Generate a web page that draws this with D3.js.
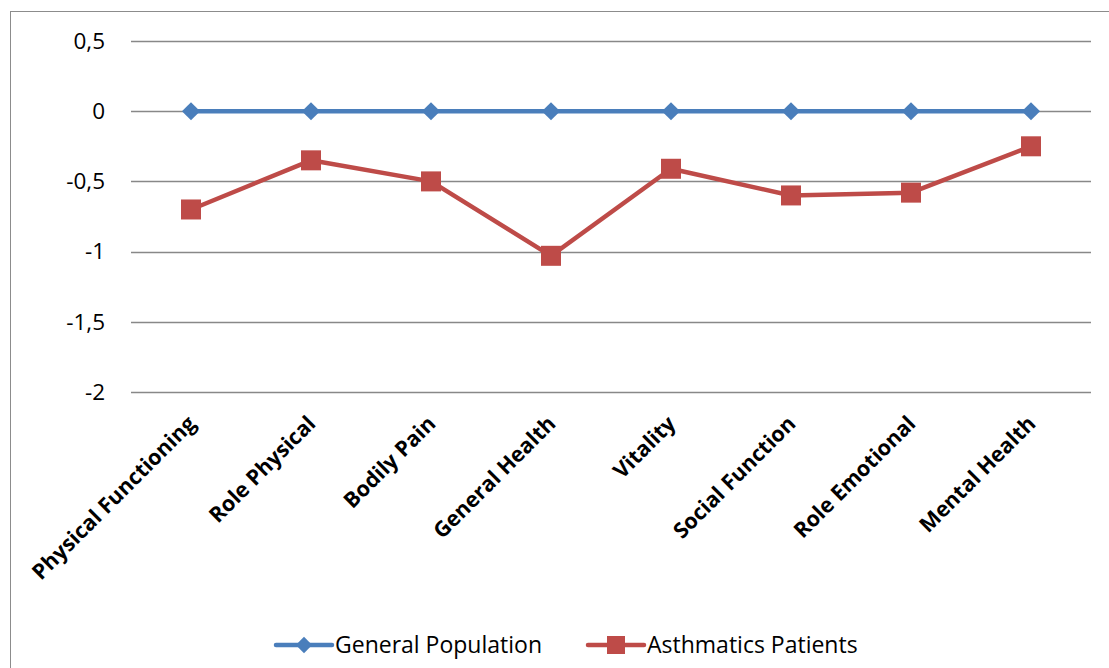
<!DOCTYPE html>
<html>
<head>
<meta charset="utf-8">
<script src="https://cdn.jsdelivr.net/npm/d3@7"></script>
<style>
  html, body { margin: 0; padding: 0; background: #fff; }
  svg { display: block; }
</style>
</head>
<body>
<div id="chart"></div>
<script>
// SF-36 domain scores relative to the general population
const categories = ["Physical Functioning", "Role Physical", "Bodily Pain", "General Health",
                    "Vitality", "Social Function", "Role Emotional", "Mental Health"];
const generalPopulation = [0, 0, 0, 0, 0, 0, 0, 0];
const asthmaticsPatients = [-0.70, -0.35, -0.50, -1.03, -0.41, -0.60, -0.58, -0.25];
const yTicks = [0.5, 0, -0.5, -1, -1.5, -2];
const seriesNames = ["General Population", "Asthmatics Patients"];

const W = 1109, H = 668;
const margin = { left: 131, right: 18, top: 41, bottom: 276 };
const FONT = "'Open Sans', sans-serif";

const svg = d3.select("#chart").append("svg")
  .attr("width", W).attr("height", H);

// outer chart frame
svg.append("rect")
  .attr("x", 10.5).attr("y", 11.5)
  .attr("width", W + 20).attr("height", H + 20)
  .attr("fill", "#fff").attr("stroke", "#8c8c8c").attr("stroke-width", 1);

const x = d3.scaleBand().domain(categories)
  .range([margin.left, W - margin.right]).padding(0);
const y = d3.scaleLinear().domain([-2, 0.5])
  .range([H - margin.bottom, margin.top]);

// horizontal gridlines and value labels
const yAxis = d3.axisLeft(y).tickValues(yTicks).tickSize(0).tickPadding(26)
  .tickFormat(d => String(d).replace(".", ","));
const gy = svg.append("g").attr("transform", `translate(${margin.left},0)`).call(yAxis);
gy.select(".domain").remove();
gy.selectAll("text")
  .attr("font-family", FONT)
  .attr("font-size", 22.5).attr("fill", "#000");

svg.append("g").selectAll("line").data(yTicks).join("line")
  .attr("x1", margin.left).attr("x2", W - margin.right)
  .attr("y1", d => Math.round(y(d)) + 0.5).attr("y2", d => Math.round(y(d)) + 0.5)
  .attr("stroke", "#888").attr("stroke-width", 1.5);

// rotated category labels
const cx = d => x(d) + x.bandwidth() / 2;
svg.append("g").selectAll("text").data(categories).join("text")
  .attr("transform", d => `translate(${cx(d) + 6},${y(-2) + 33}) rotate(-45)`)
  .attr("text-anchor", "end")
  .attr("font-family", FONT)
  .attr("font-weight", "bold").attr("font-size", 21.5)
  .attr("fill", "#000")
  .text(d => d);

const blue = "#4a7ebb", red = "#be4b48";
const line = d3.line().x((d, i) => cx(categories[i])).y(d => y(d));

// General Population series
svg.append("path").datum(generalPopulation)
  .attr("d", line).attr("fill", "none")
  .attr("stroke", blue).attr("stroke-width", 4.5).attr("stroke-linejoin", "round");
svg.append("g").selectAll("path").data(generalPopulation).join("path")
  .attr("d", d3.symbol(d3.symbolDiamond2, 210))
  .attr("transform", (d, i) => `translate(${cx(categories[i])},${y(d)})`)
  .attr("fill", blue);

// Asthmatics Patients series
svg.append("path").datum(asthmaticsPatients)
  .attr("d", line).attr("fill", "none")
  .attr("stroke", red).attr("stroke-width", 4.5).attr("stroke-linejoin", "round");
svg.append("g").selectAll("rect").data(asthmaticsPatients).join("rect")
  .attr("x", (d, i) => cx(categories[i]) - 10).attr("y", d => y(d) - 10)
  .attr("width", 20).attr("height", 20).attr("fill", red);

// legend
const legendY = 645;
const legend = [
  { name: seriesNames[0], color: blue, x0: 276, x1: 332, shape: "diamond" },
  { name: seriesNames[1], color: red, x0: 588, x1: 644, shape: "square" }
];
const lg = svg.append("g");
legend.forEach(l => {
  lg.append("line").attr("x1", l.x0).attr("x2", l.x1)
    .attr("y1", legendY).attr("y2", legendY)
    .attr("stroke", l.color).attr("stroke-width", 4.5).attr("stroke-linecap", "round");
  const mx = (l.x0 + l.x1) / 2;
  if (l.shape === "diamond") {
    lg.append("path").attr("d", d3.symbol(d3.symbolDiamond2, 170))
      .attr("transform", `translate(${mx},${legendY})`).attr("fill", l.color);
  } else {
    lg.append("rect").attr("x", mx - 9).attr("y", legendY - 9)
      .attr("width", 18).attr("height", 18).attr("fill", l.color);
  }
  lg.append("text").attr("x", l.x1 + 3).attr("y", legendY + 8)
    .attr("font-family", FONT).attr("font-size", 23)
    .attr("fill", "#000").text(l.name);
});
</script>
</body>
</html>
